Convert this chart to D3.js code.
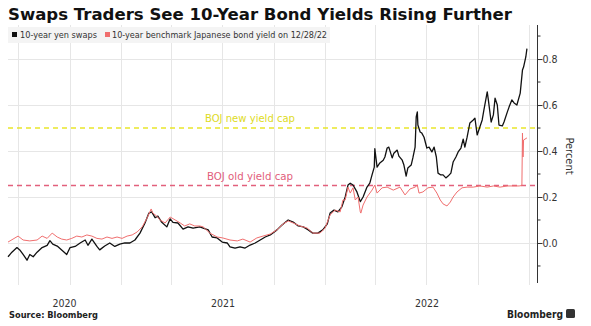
<!DOCTYPE html>
<html><head><meta charset="utf-8">
<script src="https://cdn.jsdelivr.net/npm/d3@7"></script>
<style>html,body{margin:0;padding:0;background:#fff;}svg{display:block;}</style>
</head><body>
<svg id="chart" width="591" height="326"></svg>
<script>
// ---------- DATA ----------
const swapDates = ["2020-06-13","2020-06-20","2020-06-29","2020-07-04","2020-07-10","2020-07-17","2020-07-22","2020-07-28","2020-08-04","2020-08-13","2020-08-22","2020-08-27","2020-09-01","2020-09-10","2020-09-17","2020-09-26","2020-10-02","2020-10-11","2020-10-20","2020-10-29","2020-11-03","2020-11-10","2020-11-19","2020-11-24","2020-12-03","2020-12-12","2020-12-21","2020-12-30","2021-01-08","2021-01-17","2021-01-26","2021-02-04","2021-02-13","2021-02-20","2021-02-25","2021-03-03","2021-03-08","2021-03-15","2021-03-24","2021-03-30","2021-04-04","2021-04-13","2021-04-22","2021-05-01","2021-05-10","2021-05-22","2021-05-28","2021-06-06","2021-06-13","2021-06-22","2021-07-01","2021-07-10","2021-07-15","2021-07-24","2021-08-02","2021-08-11","2021-08-20","2021-08-29","2021-09-07","2021-09-16","2021-09-25","2021-10-07","2021-10-16","2021-10-27","2021-11-05","2021-11-14","2021-11-23","2021-12-02","2021-12-10","2021-12-19","2021-12-28","2022-01-05","2022-01-10","2022-01-17","2022-01-24","2022-01-31","2022-02-06","2022-02-11","2022-02-15","2022-02-20","2022-02-27","2022-03-05","2022-03-10","2022-03-17","2022-03-22","2022-03-26","2022-03-30","2022-03-31","2022-04-04","2022-04-09","2022-04-15","2022-04-18","2022-04-22","2022-04-25","2022-05-01","2022-05-04","2022-05-10","2022-05-13","2022-05-19","2022-05-22","2022-05-26","2022-05-29","2022-06-04","2022-06-07","2022-06-11","2022-06-13","2022-06-15","2022-06-16","2022-06-20","2022-06-23","2022-06-27","2022-07-02","2022-07-06","2022-07-11","2022-07-15","2022-07-19","2022-07-22","2022-07-27","2022-07-31","2022-08-05","2022-08-09","2022-08-14","2022-08-18","2022-08-23","2022-08-27","2022-09-01","2022-09-05","2022-09-08","2022-09-12","2022-09-17","2022-09-23","2022-09-26","2022-09-30","2022-10-03","2022-10-09","2022-10-12","2022-10-18","2022-10-20","2022-10-25","2022-10-29","2022-11-01","2022-11-05","2022-11-08","2022-11-14","2022-11-17","2022-11-23","2022-11-26","2022-12-01","2022-12-05","2022-12-10","2022-12-16","2022-12-20","2022-12-22","2022-12-26","2022-12-28"];
const swapValues = [-0.06,-0.04,-0.02,-0.03,-0.05,-0.075,-0.05,-0.06,-0.04,-0.02,-0.01,0.01,-0.005,-0.015,-0.03,-0.05,-0.02,-0.015,0.0,0.013,-0.01,0.017,-0.015,-0.03,-0.013,0.0,-0.015,-0.005,0.0,0.0,0.013,0.043,0.087,0.13,0.135,0.11,0.117,0.09,0.07,0.105,0.09,0.087,0.06,0.07,0.065,0.07,0.065,0.057,0.026,0.022,0.004,0.0,-0.017,-0.022,-0.017,-0.022,-0.009,0.0,0.013,0.026,0.035,0.057,0.078,0.1,0.091,0.074,0.07,0.057,0.043,0.043,0.057,0.083,0.13,0.143,0.135,0.157,0.2,0.252,0.26,0.252,0.222,0.18,0.2,0.243,0.26,0.296,0.33,0.41,0.33,0.348,0.36,0.374,0.413,0.417,0.37,0.39,0.404,0.378,0.36,0.339,0.291,0.326,0.339,0.37,0.417,0.548,0.57,0.513,0.483,0.478,0.46,0.413,0.417,0.396,0.417,0.374,0.304,0.296,0.296,0.283,0.291,0.304,0.352,0.374,0.396,0.413,0.452,0.417,0.46,0.522,0.535,0.543,0.47,0.491,0.535,0.578,0.657,0.622,0.526,0.557,0.63,0.6,0.513,0.509,0.526,0.57,0.591,0.622,0.609,0.6,0.652,0.752,0.765,0.809,0.845];

const jgbDates = ["2020-06-13","2020-06-22","2020-07-01","2020-07-10","2020-07-22","2020-08-04","2020-08-13","2020-08-22","2020-08-31","2020-09-09","2020-09-17","2020-09-26","2020-10-05","2020-10-14","2020-10-23","2020-11-01","2020-11-10","2020-11-19","2020-11-28","2020-12-07","2020-12-16","2020-12-25","2021-01-03","2021-01-12","2021-01-21","2021-01-30","2021-02-08","2021-02-17","2021-02-24","2021-02-27","2021-03-06","2021-03-12","2021-03-21","2021-03-30","2021-04-08","2021-04-17","2021-04-25","2021-05-04","2021-05-13","2021-05-22","2021-05-28","2021-06-09","2021-06-22","2021-07-02","2021-07-15","2021-07-28","2021-08-07","2021-08-20","2021-09-01","2021-09-12","2021-09-25","2021-10-07","2021-10-18","2021-10-27","2021-11-05","2021-11-17","2021-11-30","2021-12-10","2021-12-23","2022-01-01","2022-01-10","2022-01-19","2022-01-28","2022-02-02","2022-02-06","2022-02-11","2022-02-15","2022-02-20","2022-02-24","2022-03-01","2022-03-05","2022-03-06","2022-03-10","2022-03-17","2022-03-26","2022-03-31","2022-04-04","2022-04-13","2022-04-22","2022-05-03","2022-05-15","2022-05-24","2022-06-02","2022-06-11","2022-06-15","2022-06-18","2022-06-25","2022-07-04","2022-07-13","2022-07-20","2022-07-26","2022-07-31","2022-08-07","2022-08-13","2022-08-18","2022-08-25","2022-09-03","2022-09-12","2022-09-23","2022-10-05","2022-10-18","2022-10-29","2022-11-10","2022-11-23","2022-12-03","2022-12-14","2022-12-19","2022-12-20","2022-12-21","2022-12-22","2022-12-28"];
const jgbValues = [0.004,0.017,0.03,0.013,0.009,0.013,0.03,0.02,0.043,0.026,0.017,0.013,0.02,0.03,0.026,0.035,0.03,0.02,0.017,0.026,0.02,0.026,0.02,0.03,0.035,0.048,0.07,0.11,0.148,0.13,0.117,0.1,0.087,0.113,0.1,0.087,0.074,0.083,0.074,0.074,0.07,0.043,0.026,0.022,0.013,0.009,0.017,0.004,0.022,0.03,0.039,0.057,0.083,0.096,0.087,0.074,0.065,0.043,0.043,0.065,0.122,0.143,0.135,0.187,0.187,0.243,0.217,0.24,0.187,0.2,0.135,0.13,0.165,0.2,0.23,0.252,0.217,0.24,0.243,0.23,0.243,0.209,0.235,0.243,0.252,0.217,0.222,0.24,0.243,0.217,0.187,0.17,0.161,0.178,0.2,0.222,0.24,0.243,0.243,0.248,0.243,0.248,0.243,0.248,0.248,0.248,0.25,0.478,0.374,0.448,0.457];

const yTickValues = [0.0, 0.2, 0.4, 0.6, 0.8];
const yMinorValues = [-0.1, 0.1, 0.3, 0.5, 0.7, 0.9];
const yearLabels = ["2020", "2021", "2022"];
const capValues = [0.5, 0.25];
const capLabels = ["BOJ new yield cap", "BOJ old yield cap"];
const legendLabels = ["10-year yen swaps", "10-year benchmark Japanese bond yield on 12/28/22"];
const titleText = "Swaps Traders See 10-Year Bond Yields Rising Further";

// ---------- CHART ----------
(function () {
const parse = d3.timeParse("%Y-%m-%d");
const swap = swapDates.map((d, i) => ({date: parse(d), value: swapValues[i]}));
const jgb = jgbDates.map((d, i) => ({date: parse(d), value: jgbValues[i]}));

const svg = d3.select("#chart");
const pL = 8, pR = 537, pT = 25, pB = 283;
const x = d3.scaleTime().domain([parse("2020-06-13"), parse("2023-01-15")]).range([pL, pR]);
const y = d3.scaleLinear().domain([-0.174, 0.948]).range([pB, pT]);

const gridCol = "#e6e6e6";
svg.append("rect").attr("width", 591).attr("height", 326).attr("fill", "#fff");

// vertical grid (quarters)
const quarters = d3.timeMonth.every(3).range(x.domain()[0], x.domain()[1]);
svg.append("g").selectAll("line").data(quarters).join("line")
  .attr("x1", d => Math.round(x(d)) + 0.5).attr("x2", d => Math.round(x(d)) + 0.5)
  .attr("y1", pT).attr("y2", 285)
  .attr("stroke", gridCol).attr("stroke-width", 1);

// horizontal grid
svg.append("g").selectAll("line").data(yTickValues).join("line")
  .attr("x1", pL).attr("x2", pR)
  .attr("y1", d => Math.round(y(d)) + 0.5).attr("y2", d => Math.round(y(d)) + 0.5)
  .attr("stroke", gridCol).attr("stroke-width", 1);

// legend background
svg.append("rect").attr("x", 8).attr("y", 27).attr("width", 322).attr("height", 16).attr("fill", "#f4f4f4");

// cap lines
const capColors = ["#e9e62a", "#e2607c"];
const capTextColors = ["#dedb1e", "#e2607c"];
svg.append("g").selectAll("line").data(capValues).join("line")
  .attr("x1", pL).attr("x2", pR)
  .attr("y1", d => y(d)).attr("y2", d => y(d))
  .attr("stroke", (d, i) => capColors[i]).attr("stroke-width", 1.3)
  .attr("stroke-dasharray", "5,4");
svg.append("g").selectAll("text").data(capValues).join("text")
  .attr("x", 250).attr("y", d => y(d) - 6)
  .attr("text-anchor", "middle")
  .attr("font-family", "DejaVu Sans Condensed, DejaVu Sans, sans-serif")
  .attr("font-size", 10.5)
  .attr("fill", (d, i) => capTextColors[i])
  .attr("textLength", (d, i) => i === 0 ? 90 : 86).attr("lengthAdjust", "spacingAndGlyphs")
  .text((d, i) => capLabels[i]);

// lines
const line = d3.line().x(d => x(d.date)).y(d => y(d.value));
svg.append("path").datum(swap).attr("d", line)
  .attr("fill", "none").attr("stroke", "#111").attr("stroke-width", 1.3).attr("stroke-linejoin", "round");
svg.append("path").datum(jgb).attr("d", line)
  .attr("fill", "none").attr("stroke", "#f06e6e").attr("stroke-width", 1).attr("stroke-linejoin", "round");

// right axis
const axis = d3.axisRight(y).tickValues(yTickValues).tickSize(5).tickFormat(d3.format(".1f"));
const ag = svg.append("g").attr("transform", `translate(${pR + 0.5},0)`).call(axis);
ag.select(".domain").attr("stroke", "#333").attr("d", `M0,${pT}V${pB}`);
ag.selectAll(".tick line").attr("stroke", "#333");
ag.selectAll(".tick text").attr("x", 5).attr("fill", "#333")
  .attr("font-family", "DejaVu Sans Condensed, DejaVu Sans, sans-serif").attr("font-size", 10.5);
ag.append("g").selectAll("line").data(yMinorValues).join("line")
  .attr("x1", 0).attr("x2", 3).attr("y1", d => y(d)).attr("y2", d => y(d)).attr("stroke", "#333");

svg.append("text").attr("transform", `translate(566,156) rotate(90)`)
  .attr("text-anchor", "middle").attr("font-family", "DejaVu Sans Condensed, DejaVu Sans, sans-serif")
  .attr("font-size", 11).attr("fill", "#333").text("Percent");

// year labels (centered on visible part of year)
const d0 = x.domain()[0], d1 = x.domain()[1];
svg.append("g").selectAll("text").data(yearLabels).join("text")
  .attr("x", yr => {
    const s = new Date(Math.max(+new Date(+yr, 0, 1), +d0));
    const e = new Date(Math.min(+new Date(+yr + 1, 0, 1), +d1));
    return (x(s) + x(e)) / 2;
  })
  .attr("y", 307).attr("text-anchor", "middle")
  .attr("font-family", "DejaVu Sans Condensed, DejaVu Sans, sans-serif").attr("font-size", 10.5).attr("fill", "#333")
  .text(d => d);

// title
svg.append("text").attr("x", 8).attr("y", 20)
  .attr("font-family", "DejaVu Sans, sans-serif").attr("font-weight", "bold").attr("font-size", 16.5)
  .attr("fill", "#111").attr("textLength", 504).attr("lengthAdjust", "spacingAndGlyphs")
  .text(titleText);

// legend
const legCols = ["#111", "#f06e6e"];
const legX = [12, 105], legTextX = [20, 112], legW = [77, 215];
legendLabels.forEach((t, i) => {
  svg.append("rect").attr("x", legX[i]).attr("y", 32).attr("width", 5).attr("height", 5).attr("fill", legCols[i]);
  svg.append("text").attr("x", legTextX[i]).attr("y", 38)
    .attr("font-family", "DejaVu Sans Condensed, DejaVu Sans, sans-serif").attr("font-size", 9.5).attr("fill", "#333")
    .attr("textLength", legW[i]).attr("lengthAdjust", "spacingAndGlyphs").text(t);
});

// footer
svg.append("text").attr("x", 9).attr("y", 318)
  .attr("font-family", "DejaVu Sans, sans-serif").attr("font-weight", "bold").attr("font-size", 9)
  .attr("fill", "#222").attr("textLength", 89).attr("lengthAdjust", "spacingAndGlyphs").text("Source: Bloomberg");
svg.append("text").attr("x", 507).attr("y", 318)
  .attr("font-family", "DejaVu Sans, sans-serif").attr("font-weight", "bold").attr("font-size", 11)
  .attr("fill", "#222").attr("textLength", 56).attr("lengthAdjust", "spacingAndGlyphs").text("Bloomberg");
svg.append("rect").attr("x", 566).attr("y", 309).attr("width", 9).attr("height", 9).attr("rx", 1.5).attr("fill", "#333");
})();
</script>
</body></html>
